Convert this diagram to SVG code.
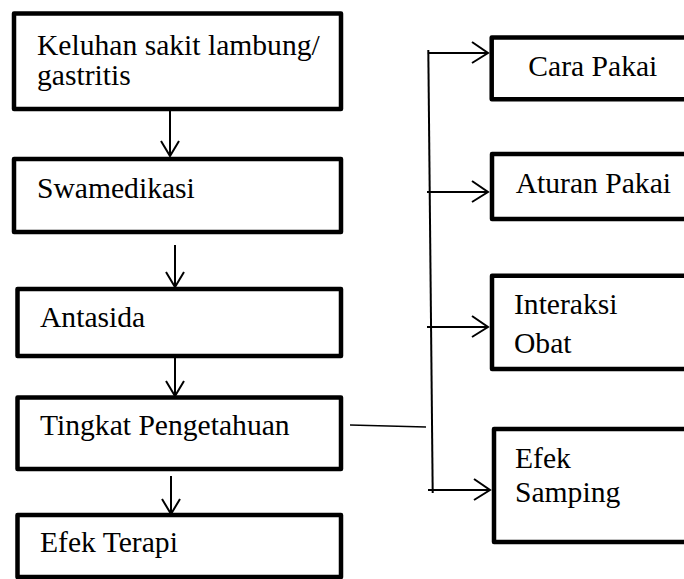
<svg xmlns="http://www.w3.org/2000/svg" width="684" height="579" viewBox="0 0 684 579">
<style>
.box{fill:#fff;stroke:#000;stroke-width:4.5;stroke-linejoin:round}
.t{font-family:'Liberation Serif','DejaVu Serif',serif;font-size:29.6px;fill:#000}
.c{fill:none;stroke:#000;stroke-width:2}
.thin{fill:none;stroke:#000;stroke-width:1.5}
</style>
<rect width="684" height="579" fill="#fff"/>
<g id="connectors">
<path class="c" d="M170 111V156M161 141L170 156L179 141"/>
<path class="c" d="M175 245V287M166 272L175 287L184 272"/>
<path class="c" d="M175 357V396M166 381L175 396L184 381"/>
<path class="c" d="M171 476V514M162 499L171 514L180 499"/>
<path class="thin" d="M350 425L426 427"/>
<path class="c" d="M428.3 50L432.7 493"/>
<path class="c" d="M428 53H488M472 42L488 53L472 63"/>
<path class="c" d="M427 192H488M472 181L488 192L472 202"/>
<path class="c" d="M427 327H488M472 316L488 327L472 337"/>
<path class="c" d="M428 490H490M474 479L490 490L474 500"/>
</g>
<g id="keluhan"><rect class="box" x="14" y="13.5" width="327" height="95.5"/><text class="t" x="37" y="54.5">Keluhan sakit lambung/</text><text class="t" x="37" y="84.5">gastritis</text></g>
<g id="swamedikasi"><rect class="box" x="14" y="159" width="327" height="73"/><text class="t" x="37" y="198">Swamedikasi</text></g>
<g id="antasida"><rect class="box" x="17.5" y="289" width="323.5" height="67"/><text class="t" x="40" y="326.5">Antasida</text></g>
<g id="tingkat"><rect class="box" x="17.5" y="397.5" width="323.5" height="71.5"/><text class="t" x="40" y="435">Tingkat Pengetahuan</text></g>
<g id="efekterapi"><rect class="box" x="17.5" y="515" width="323.5" height="62"/><text class="t" x="40" y="551.5">Efek Terapi</text></g>
<g id="carapakai"><rect class="box" x="491.7" y="37.5" width="200" height="61.7"/><text class="t" x="528.3" y="76">Cara Pakai</text></g>
<g id="aturanpakai"><rect class="box" x="492" y="154" width="200" height="65"/><text class="t" x="515.7" y="192.7">Aturan Pakai</text></g>
<g id="interaksi"><rect class="box" x="492" y="275.8" width="200" height="93.2"/><text class="t" x="514" y="314.3">Interaksi</text><text class="t" x="514" y="353.3">Obat</text></g>
<g id="efeksamping"><rect class="box" x="494" y="429" width="200" height="113"/><text class="t" x="515" y="468.3">Efek</text><text class="t" x="515" y="501.7">Samping</text></g>
</svg>
